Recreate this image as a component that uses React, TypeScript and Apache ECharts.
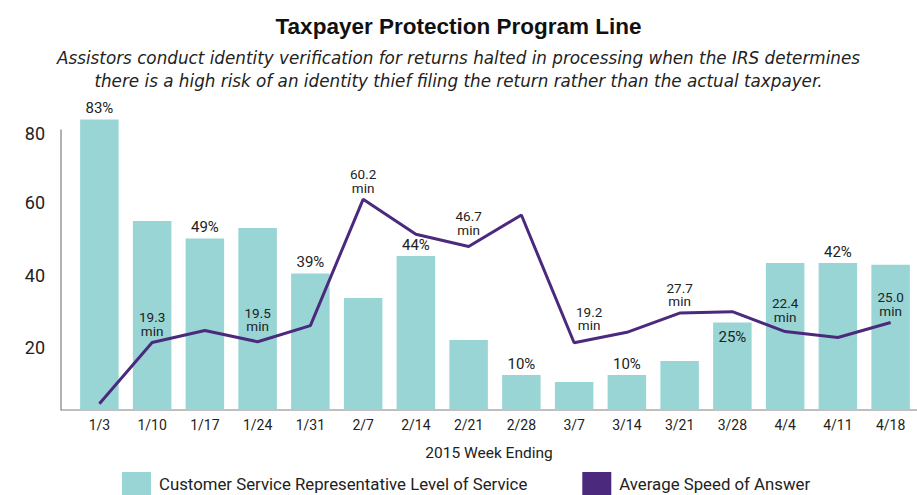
import React, { useEffect, useRef } from "react";
import * as echarts from "echarts";

const categories = ["1/3", "1/10", "1/17", "1/24", "1/31", "2/7", "2/14", "2/21", "2/28", "3/7", "3/14", "3/21", "3/28", "4/4", "4/11", "4/18"];
const levelOfService = [83, 54, 49, 52, 39, 32, 44, 20, 10, 8, 10, 14, 25, 42, 42, 41.5];
const levelLabelMode = ["top", "", "top", "", "top", "", "top", "", "top", "", "top", "", "insideTop", "", "top", ""];
const speedOfAnswer = [1.8, 19.3, 22.7, 19.5, 24.1, 60.2, 50.2, 46.7, 55.7, 19.2, 22.2, 27.7, 28.1, 22.4, 20.7, 25.0];
const speedLabelShown = [false, true, false, true, false, true, false, true, false, true, false, true, false, true, false, true];
const yTicks = { min: 0, max: 80, interval: 20 };

// label style tweaks (pixel offsets of the "min" labels)
const speedLabelShift: Record<number, [number, number]> = { 3: [0, -4], 7: [0, -5], 9: [15, -6], 13: [0, -3] };
const yLabelShift: Record<number, number> = { 20: 14, 40: 10, 60: 4, 80: 6 };

const TEAL = "#98D5D4";
const PURPLE = "#4B2A7D";
const FONT = "Roboto, 'Liberation Sans', sans-serif";

export default function App() {
  const ref = useRef<HTMLDivElement>(null);
  useEffect(() => {
    if (!ref.current) return;
    const chart = echarts.init(ref.current, null, { renderer: "svg" });
    const barData = levelOfService.map((v, i) => ({
      value: v,
      label: levelLabelMode[i]
        ? { show: true, position: levelLabelMode[i], distance: levelLabelMode[i] === "insideTop" ? 7 : 4 }
        : { show: false },
    }));
    const lineData = speedOfAnswer.map((v, i) => ({
      value: v,
      label: { show: speedLabelShown[i], offset: speedLabelShift[i] || [0, 0] },
    }));
    const yRich: Record<string, any> = {};
    Object.keys(yLabelShift).forEach((k) => {
      yRich["v" + k] = { fontSize: 18, color: "#222", fontFamily: FONT, padding: [yLabelShift[+k], 0, 0, 0] };
    });
    chart.setOption({
      animation: false,
      backgroundColor: "#ffffff",
      textStyle: { fontFamily: FONT },
      title: [
        {
          text: "Taxpayer Protection Program Line",
          left: "center",
          top: 10,
          textStyle: { fontFamily: "'Liberation Sans', Arial, sans-serif", fontSize: 22.5, fontWeight: "bold", color: "#111" },
        },
        {
          text: "Assistors conduct identity verification for returns halted in processing when the IRS determines\nthere is a high risk of an identity thief filing the return rather than the actual taxpayer.",
          left: "center",
          top: 41,
          textStyle: {
            fontFamily: "'DejaVu Sans', sans-serif",
            fontSize: 16.8,
            fontStyle: "italic",
            fontWeight: "normal",
            color: "#222",
            lineHeight: 23,
            align: "center",
          },
        },
      ],
      legend: {
        left: 122,
        top: 472,
        padding: 0,
        itemWidth: 29,
        itemHeight: 23,
        itemGap: 55,
        icon: "rect",
        textStyle: { fontFamily: FONT, fontSize: 16.8, color: "#222", padding: [0, 0, 0, 3] },
        data: ["Customer Service Representative Level of Service", "Average Speed of Answer"],
      },
      grid: { left: 73, right: -6, top: 130, bottom: 85, containLabel: false },
      xAxis: {
        type: "category",
        data: categories,
        axisLine: { show: false },
        axisTick: { show: false },
        axisLabel: { fontSize: 14, color: "#222", margin: 8, interval: 0 },
        name: "2015 Week Ending",
        nameLocation: "middle",
        nameGap: 35,
        nameTextStyle: { fontSize: 15.5, color: "#222", padding: [0, 12, 0, 0] },
      },
      yAxis: {
        type: "value",
        min: yTicks.min,
        max: yTicks.max,
        interval: yTicks.interval,
        offset: 12,
        axisLine: { show: true, lineStyle: { color: "#999", width: 1.5 } },
        axisTick: { show: false },
        splitLine: { show: false },
        axisLabel: {
          showMinLabel: false,
          fontSize: 18,
          color: "#222",
          margin: 16,
          formatter: (v: number) => (yLabelShift[v] !== undefined ? `{v${v}|${v}}` : `${v}`),
          rich: yRich,
        },
      },
      graphic: [
        {
          type: "line",
          shape: { x1: 61, y1: 410, x2: 917, y2: 410 },
          style: { stroke: "#aaa", lineWidth: 1.5 },
          z: 0,
        },
      ],
      series: [
        {
          name: "Customer Service Representative Level of Service",
          type: "bar",
          data: barData,
          barCategoryGap: "27%",
          clip: false,
          itemStyle: { color: TEAL },
          label: { fontSize: 15, color: "#222", formatter: (p: any) => `${Math.round(p.value)}%` },
          z: 1,
        },
        {
          name: "Average Speed of Answer",
          type: "line",
          data: lineData,
          symbol: "circle",
          symbolSize: 0,
          showSymbol: true,
          lineStyle: { color: PURPLE, width: 3 },
          itemStyle: { color: PURPLE },
          label: {
            position: "top",
            distance: 5,
            fontSize: 13.5,
            lineHeight: 13.5,
            color: "#222",
            formatter: (p: any) => `${Number(p.value).toFixed(1)}\nmin`,
          },
          z: 3,
        },
      ],
    });
    return () => chart.dispose();
  }, []);
  return <div ref={ref} style={{ position: "fixed", left: 0, top: 0, width: 917, height: 495 }} />;
}
